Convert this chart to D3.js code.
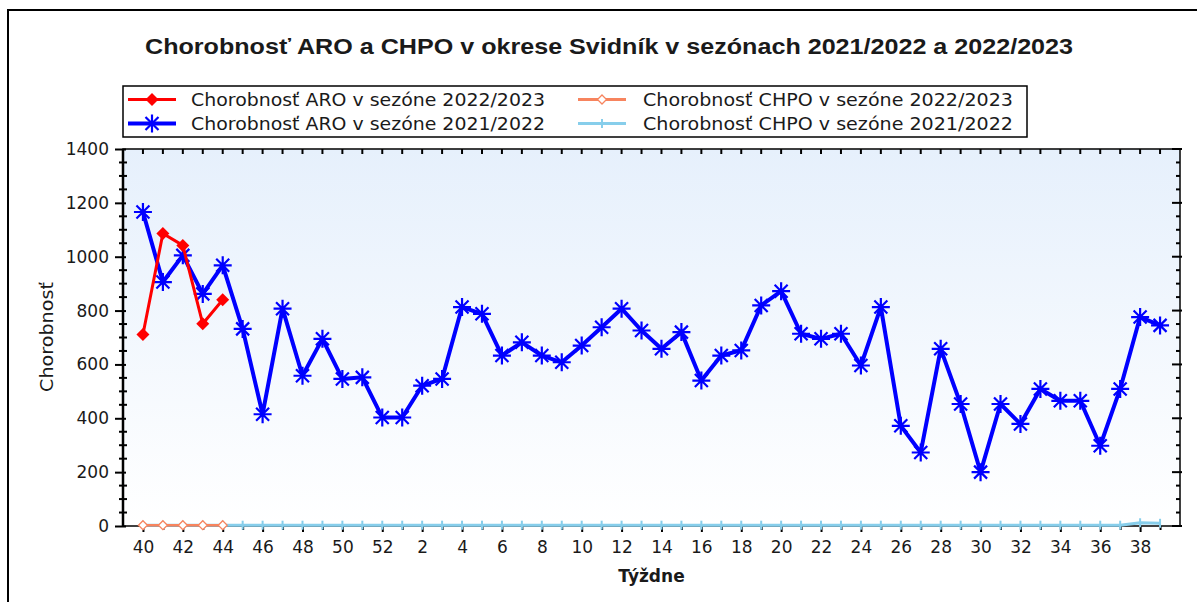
<!DOCTYPE html>
<html>
<head>
<meta charset="utf-8">
<script src="https://cdn.jsdelivr.net/npm/d3@7"></script>
<style>
    body { margin: 0; background: #ffffff; }
    svg { display: block; }
    text { font-family: "DejaVu Sans", Verdana, sans-serif; fill: #1a1a1a; }
</style>
</head>
<body>
<div id="chart"></div>
<script>
// week labels: season runs from week 40 to week 39 of the next year
var weeks = [40, 41, 42, 43, 44, 45, 46, 47, 48, 49, 50, 51, 52,
    1, 2, 3, 4, 5, 6, 7, 8, 9, 10, 11, 12, 13, 14, 15, 16, 17, 18, 19, 20,
    21, 22, 23, 24, 25, 26, 27, 28, 29, 30, 31, 32, 33, 34, 35, 36, 37, 38, 39];

// Chorobnosť ARO 2021/2022 (whole season)
var aro2122 = [1166, 906, 1005, 862, 968, 732, 415, 807, 558, 695, 546, 552, 403,
    403, 521, 546, 813, 788, 633, 682, 633, 608, 670, 738, 807, 726, 658, 720, 540, 633, 652, 819, 872,
    714, 695, 714, 596, 813, 372, 273, 658, 453, 200, 453, 379, 509, 465, 465, 298, 509, 776, 745];

// Chorobnosť ARO 2022/2023 (weeks 40 - 44 so far)
var aro2223 = [711, 1086, 1042, 751, 840];

// Chorobnosť CHPO
var chpo2223 = [3, 3, 3, 3, 3];
var chpo2122 = [3, 3, 3, 3, 3, 3, 3, 3, 3, 3, 3, 3, 3,
    3, 3, 3, 3, 3, 3, 3, 3, 3, 3, 3, 3, 3, 3, 3, 3, 3, 3, 3, 3,
    3, 3, 3, 3, 3, 3, 3, 3, 3, 3, 3, 3, 3, 3, 3, 3, 3, 12, 10];

var yTicks = [0, 200, 400, 600, 800, 1000, 1200, 1400];

var titleText = "Chorobnosť ARO a CHPO v okrese Svidník v sezónach 2021/2022 a 2022/2023";
var legendItems = [
    { name: "Chorobnosť ARO v sezóne 2022/2023", color: "#ff0000", marker: "diamond", col: 0, row: 0 },
    { name: "Chorobnosť CHPO v sezóne 2022/2023", color: "#f7845e", marker: "hollow", col: 1, row: 0 },
    { name: "Chorobnosť ARO v sezóne 2021/2022", color: "#0000ff", marker: "star", col: 0, row: 1 },
    { name: "Chorobnosť CHPO v sezóne 2021/2022", color: "#87ceeb", marker: "plus", col: 1, row: 1 }
];

var width = 1197, height = 602;
var plot = { left: 123, right: 1180, top: 149, bottom: 526 };

var svg = d3.select("#chart").append("svg")
    .attr("width", width)
    .attr("height", height);

// outer frame
svg.append("rect")
    .attr("x", 8).attr("y", 10)
    .attr("width", 1200).attr("height", 620)
    .attr("fill", "none")
    .attr("stroke", "#000").attr("stroke-width", 2);

var x = d3.scaleLinear().domain([-1, 52]).range([plot.left, plot.right]);
var y = d3.scaleLinear().domain([0, 1400]).range([plot.bottom, plot.top]);

// plot background gradient
var grad = svg.append("defs").append("linearGradient")
    .attr("id", "bg").attr("x1", 0).attr("y1", 0).attr("x2", 0).attr("y2", 1);
grad.append("stop").attr("offset", "0%").attr("stop-color", "#e6f0fc");
grad.append("stop").attr("offset", "100%").attr("stop-color", "#ffffff");

svg.append("rect")
    .attr("x", plot.left).attr("y", plot.top)
    .attr("width", plot.right - plot.left).attr("height", plot.bottom - plot.top)
    .attr("fill", "url(#bg)");

// title
svg.append("text")
    .attr("x", 609).attr("y", 54)
    .attr("text-anchor", "middle")
    .attr("textLength", 928).attr("lengthAdjust", "spacingAndGlyphs")
    .style("font-family", "'Liberation Sans', Arial, sans-serif")
    .style("font-weight", "bold").style("font-size", "22px")
    .text(titleText);

/*----------  Axes  ----------*/
var idx = d3.range(weeks.length);

// left axis: labels + major ticks
var yAxis = svg.append("g")
    .attr("transform", "translate(" + plot.left + ",0)")
    .call(d3.axisLeft(y).tickValues(yTicks).tickSize(8).tickPadding(6).tickFormat(d3.format("d")));
yAxis.select(".domain").remove();
yAxis.selectAll("line").attr("stroke", "#000").attr("stroke-width", 2).attr("x2", -8).attr("x1", 3);
yAxis.selectAll("text").style("font-size", "17px").attr("fill", "#1a1a1a")
    .style("font-family", "'DejaVu Sans', sans-serif").attr("x", -14);

var minorY = d3.range(0, 1401, 50).filter(function(v) { return v % 200 !== 0; });
svg.append("g").selectAll("line").data(minorY).enter().append("line")
    .attr("x1", plot.left - 4).attr("x2", plot.left + 4)
    .attr("y1", function(d) { return y(d); }).attr("y2", function(d) { return y(d); })
    .attr("stroke", "#000").attr("stroke-width", 2);

// right side ticks, pointing in
svg.append("g").selectAll("line").data(d3.range(0, 1401, 50)).enter().append("line")
    .attr("x1", function(d) { return d % 200 === 0 ? plot.right - 8 : plot.right - 4; })
    .attr("x2", function(d) { return d % 200 === 0 ? plot.right + 2 : plot.right; })
    .attr("y1", function(d) { return y(d); }).attr("y2", function(d) { return y(d); })
    .attr("stroke", "#000").attr("stroke-width", 2);

// top ticks
svg.append("g").selectAll("line").data(idx).enter().append("line")
    .attr("x1", function(d) { return x(d); }).attr("x2", function(d) { return x(d); })
    .attr("y1", plot.top).attr("y2", plot.top + 5)
    .attr("stroke", "#000").attr("stroke-width", 2);

// bottom axis
var xAxis = svg.append("g")
    .attr("transform", "translate(0," + plot.bottom + ")")
    .call(d3.axisBottom(x).tickValues(idx).tickSize(6).tickPadding(9)
        .tickFormat(function(d) { return d % 2 === 0 ? weeks[d] : ""; }));
xAxis.select(".domain").remove();
xAxis.selectAll("line").attr("stroke", "#000").attr("stroke-width", 2)
    .attr("y2", function(d) { return d % 2 === 0 ? 6 : 4; });
xAxis.selectAll("text").style("font-size", "17px").attr("fill", "#1a1a1a")
    .style("font-family", "'DejaVu Sans', sans-serif");

// frame of the plot
svg.append("rect")
    .attr("x", plot.left).attr("y", plot.top)
    .attr("width", plot.right - plot.left).attr("height", plot.bottom - plot.top)
    .attr("fill", "none").attr("stroke", "#000").attr("stroke-width", 1.5);
svg.append("line")
    .attr("x1", plot.left).attr("x2", plot.left).attr("y1", plot.top).attr("y2", plot.bottom)
    .attr("stroke", "#000").attr("stroke-width", 2.5);

// axis titles
svg.append("text")
    .attr("transform", "translate(53,337) rotate(-90)")
    .attr("text-anchor", "middle")
    .attr("textLength", 110).attr("lengthAdjust", "spacingAndGlyphs")
    .style("font-size", "17px")
    .text("Chorobnosť");

svg.append("text")
    .attr("x", (plot.left + plot.right) / 2).attr("y", 582)
    .attr("text-anchor", "middle")
    .style("font-size", "17px").style("font-weight", "bold")
    .text("Týždne");

/*----------  Markers  ----------*/
function drawMarker(g, type, color) {
    if (type === "diamond") {
        g.append("path").attr("d", "M0,-6.5L6.5,0L0,6.5L-6.5,0Z").attr("fill", color);
    } else if (type === "hollow") {
        g.append("path").attr("d", "M0,-4.5L4.5,0L0,4.5L-4.5,0Z")
            .attr("fill", "#fff").attr("stroke", color).attr("stroke-width", 1.3);
    } else if (type === "star") {
        g.append("path").attr("d", "M-9,0H9M0,-9V9M-6.5,-6.5L6.5,6.5M-6.5,6.5L6.5,-6.5")
            .attr("stroke", color).attr("stroke-width", 2.2).attr("fill", "none");
    } else if (type === "plus") {
        g.append("path").attr("d", "M0,-4.5V4.5")
            .attr("stroke", color).attr("stroke-width", 2).attr("fill", "none");
    }
}

var line = d3.line()
    .x(function(d, i) { return x(i); })
    .y(function(d) { return y(d); });

function drawSeries(data, color, lw, marker) {
    var g = svg.append("g");
    g.append("path").datum(data)
        .attr("d", line)
        .attr("fill", "none").attr("stroke", color).attr("stroke-width", lw)
        .attr("stroke-linejoin", "round");
    g.selectAll("g").data(data).enter().append("g")
        .attr("transform", function(d, i) { return "translate(" + x(i) + "," + y(d) + ")"; })
        .each(function() { drawMarker(d3.select(this), marker, color); });
}

drawSeries(chpo2122, "#87ceeb", 3, "plus");
drawSeries(chpo2223, "#f7845e", 2.5, "hollow");
drawSeries(aro2122, "#0000ff", 4, "star");
drawSeries(aro2223, "#ff0000", 3, "diamond");

/*----------  Legend  ----------*/
var legend = svg.append("g");
legend.append("rect")
    .attr("x", 123).attr("y", 86).attr("width", 904).attr("height", 51)
    .attr("fill", "#fff").attr("stroke", "#000").attr("stroke-width", 1.5);

var colX = [128, 578];
var rowY = [99.5, 123.5];
var textW = [354, 370];

var item = legend.selectAll("g.item").data(legendItems).enter().append("g")
    .attr("class", "item")
    .attr("transform", function(d) { return "translate(" + colX[d.col] + "," + rowY[d.row] + ")"; });

item.append("line")
    .attr("x1", 0).attr("x2", 48)
    .attr("stroke", function(d) { return d.color; })
    .attr("stroke-width", function(d) { return d.marker === "star" ? 4 : 3; });
item.each(function(d) {
    var m = d3.select(this).append("g").attr("transform", "translate(24,0)");
    drawMarker(m, d.marker, d.color);
});
item.append("text")
    .attr("x", function(d) { return d.col === 0 ? 63 : 65; })
    .attr("y", 6)
    .attr("textLength", function(d) { return textW[d.col]; })
    .attr("lengthAdjust", "spacingAndGlyphs")
    .style("font-size", "17px")
    .text(function(d) { return d.name; });
</script>
</body>
</html>
